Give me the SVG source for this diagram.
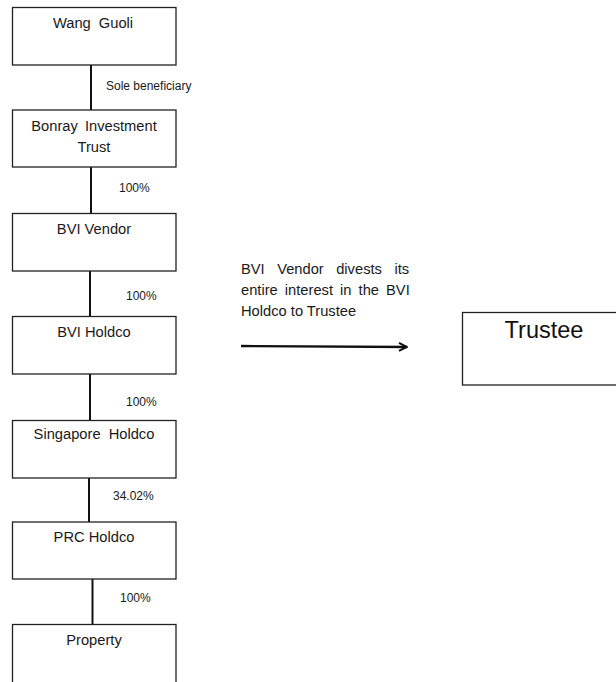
<svg xmlns="http://www.w3.org/2000/svg" width="616" height="682" viewBox="0 0 616 682">
<defs>
<style>
.box{fill:#fff;stroke:#222;stroke-width:1.3}
.bt{font-family:"Liberation Sans",Arial,sans-serif;font-size:14.7px;fill:#1a1a1a;text-anchor:middle}
.lb{font-family:"Liberation Sans",Arial,sans-serif;font-size:12px;fill:#1a1a1a}
.cn{stroke:#111;stroke-width:2;fill:none}
</style>
<marker id="ah" viewBox="0 0 10 10" refX="9" refY="5" markerWidth="10" markerHeight="12" markerUnits="userSpaceOnUse" orient="auto">
<path d="M1,1 L9,5 L1,9" fill="none" stroke="#111" stroke-width="2"/>
</marker>
</defs>
<rect width="616" height="682" fill="#fff"/>
<g id="connectors">
<line class="cn" x1="91" y1="65" x2="91" y2="110"/>
<line class="cn" x1="91" y1="167" x2="91" y2="213"/>
<line class="cn" x1="90" y1="271" x2="90" y2="316"/>
<line class="cn" x1="90" y1="374" x2="90" y2="420"/>
<line class="cn" x1="89" y1="478" x2="89" y2="522"/>
<line class="cn" x1="92.5" y1="579" x2="92.5" y2="624"/>
<line x1="241" y1="346" x2="407" y2="347" stroke="#111" stroke-width="2.4" marker-end="url(#ah)"/>
<text class="lb" x="106" y="90">Sole beneficiary</text>
<text class="lb" x="119" y="192">100%</text>
<text class="lb" x="126" y="300">100%</text>
<text class="lb" x="126" y="406">100%</text>
<text class="lb" x="113" y="500">34.02%</text>
<text class="lb" x="120" y="602">100%</text>
<g font-family="Liberation Sans, Arial, sans-serif" font-size="14.7" fill="#1a1a1a">
<text x="241" y="274" style="word-spacing:8.4px">BVI Vendor divests its</text>
<text x="241" y="295" style="word-spacing:3px">entire interest in the BVI</text>
<text x="241" y="316">Holdco to Trustee</text>
</g>
</g>
<g id="wang">
<rect class="box" x="12.5" y="7.5" width="163.5" height="57.5"/>
<text class="bt" x="93" y="28" style="word-spacing:4px">Wang Guoli</text>
</g>
<g id="bonray">
<rect class="box" x="12.5" y="110" width="163.5" height="57"/>
<text class="bt" x="94" y="131" style="word-spacing:3px">Bonray Investment</text>
<text class="bt" x="94" y="152">Trust</text>
</g>
<g id="bvivendor">
<rect class="box" x="12.5" y="213.5" width="163.5" height="57.5"/>
<text class="bt" x="94" y="234">BVI Vendor</text>
</g>
<g id="bviholdco">
<rect class="box" x="12.5" y="316.5" width="163.5" height="57.5"/>
<text class="bt" x="94" y="337">BVI Holdco</text>
</g>
<g id="singapore">
<rect class="box" x="12.5" y="420.5" width="163.5" height="57.5"/>
<text class="bt" x="94" y="439" style="word-spacing:4px">Singapore Holdco</text>
</g>
<g id="prc">
<rect class="box" x="12.5" y="522" width="163.5" height="57"/>
<text class="bt" x="94" y="542">PRC Holdco</text>
</g>
<g id="property">
<rect class="box" x="12.5" y="624.5" width="163.5" height="70"/>
<text class="bt" x="94" y="645">Property</text>
</g>
<g id="trustee">
<rect class="box" x="462.5" y="312.5" width="170" height="72.5"/>
<text x="544" y="338" font-family="Liberation Sans, Arial, sans-serif" font-size="23.5" fill="#111" text-anchor="middle">Trustee</text>
</g>
</svg>
